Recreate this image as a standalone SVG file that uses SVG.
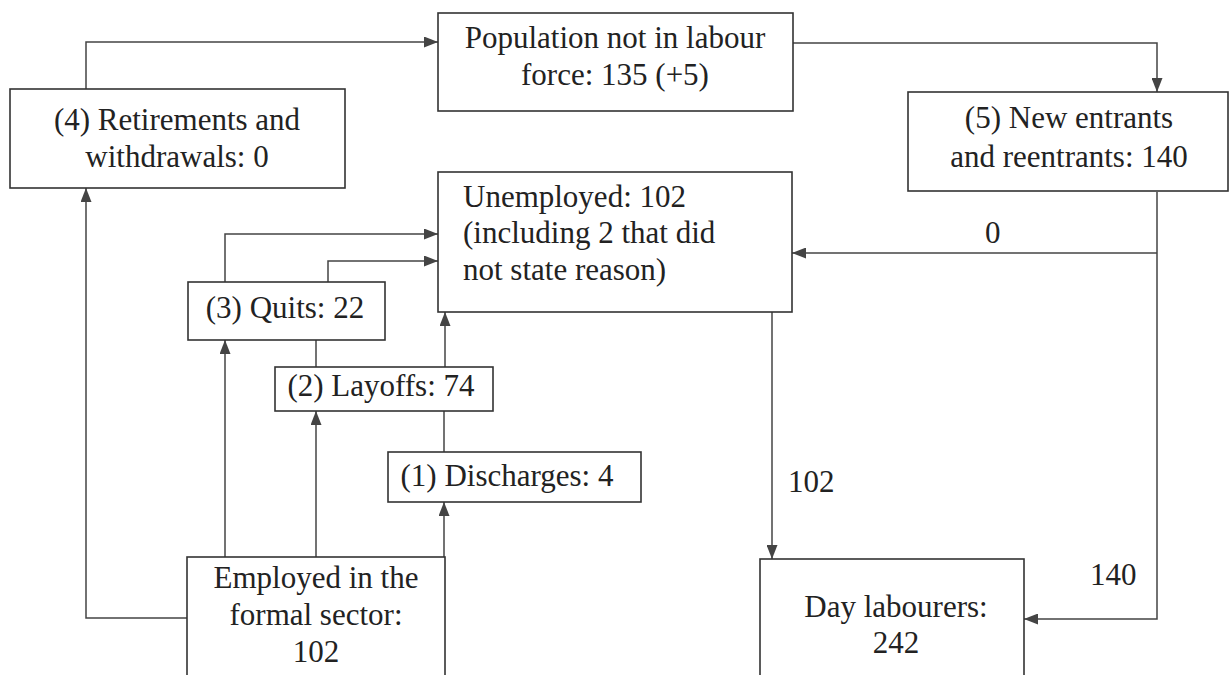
<svg xmlns="http://www.w3.org/2000/svg" width="1229" height="675" viewBox="0 0 1229 675">
<defs>
<marker id="ah" markerWidth="15" markerHeight="11" refX="14" refY="5.5" orient="auto" markerUnits="userSpaceOnUse">
<path d="M0,0 L14,5.5 L0,11 z" fill="#444"/>
</marker>
<style>
.box{fill:#fff;stroke:#333;stroke-width:1.6}
.t{font-family:"Liberation Serif","Times New Roman",serif;font-size:31px;fill:#222}
.c{text-anchor:middle}
.ln{fill:none;stroke:#444;stroke-width:1.5}
.ar{fill:none;stroke:#444;stroke-width:1.5;marker-end:url(#ah)}
</style>
</defs>
<rect width="1229" height="675" fill="#fff"/>
<g id="connectors">
<path class="ar" d="M86,89 V42 H438"/>
<path class="ar" d="M793,43 H1157 V92"/>
<path class="ar" d="M1157,192 V619 H1024"/>
<path class="ar" d="M1157,253 H792"/>
<path class="ar" d="M772,312 V559"/>
<path class="ar" d="M187,618 H86 V188"/>
<path class="ar" d="M225,557 V340"/>
<path class="ar" d="M316,557 V411"/>
<path class="ar" d="M444,557 V502"/>
<path class="ln" d="M444,452 V411"/>
<path class="ar" d="M445,367 V312"/>
<path class="ln" d="M316,340 V367"/>
<path class="ar" d="M225,282 V234 H438"/>
<path class="ar" d="M328,282 V261 H438"/>
<text class="t" x="985" y="243">0</text>
<text class="t" x="788" y="492">102</text>
<text class="t" x="1090" y="585">140</text>
</g>
<g id="population">
<rect class="box" x="438" y="13" width="355" height="98"/>
<text class="t c" x="615" y="48">Population not in labour</text>
<text class="t c" x="615" y="85">force: 135 (+5)</text>
</g>
<g id="retirements">
<rect class="box" x="10" y="89" width="335" height="99"/>
<text class="t c" x="177" y="130">(4) Retirements and</text>
<text class="t c" x="177" y="167">withdrawals: 0</text>
</g>
<g id="new-entrants">
<rect class="box" x="908" y="92" width="320" height="99"/>
<text class="t c" x="1069" y="128">(5) New entrants</text>
<text class="t c" x="1069" y="167">and reentrants: 140</text>
</g>
<g id="unemployed">
<rect class="box" x="438" y="172" width="354" height="140"/>
<text class="t" x="463" y="207">Unemployed: 102</text>
<text class="t" x="463" y="243">(including 2 that did</text>
<text class="t" x="463" y="280">not state reason)</text>
</g>
<g id="quits">
<rect class="box" x="188" y="282" width="197" height="58"/>
<text class="t c" x="285" y="318">(3) Quits: 22</text>
</g>
<g id="layoffs">
<rect class="box" x="275" y="367" width="218" height="44"/>
<text class="t c" x="381" y="396">(2) Layoffs: 74</text>
</g>
<g id="discharges">
<rect class="box" x="388" y="452" width="253" height="50"/>
<text class="t c" x="507" y="486">(1) Discharges: 4</text>
</g>
<g id="employed">
<rect class="box" x="187" y="557" width="258" height="130"/>
<text class="t c" x="316" y="588">Employed in the</text>
<text class="t c" x="316" y="625">formal sector:</text>
<text class="t c" x="316" y="662">102</text>
</g>
<g id="day-labourers">
<rect class="box" x="760" y="559" width="264" height="130"/>
<text class="t c" x="896" y="617">Day labourers:</text>
<text class="t c" x="896" y="653">242</text>
</g>
</svg>
